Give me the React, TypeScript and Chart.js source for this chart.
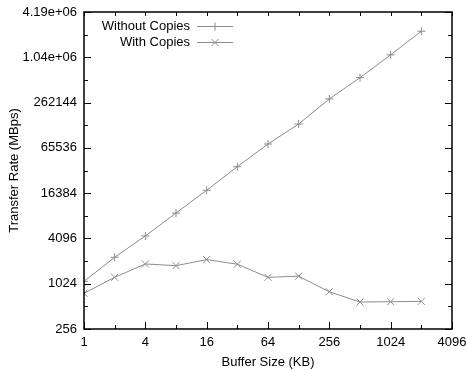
import React, { useEffect, useRef } from 'react';
import { Chart, registerables } from 'chart.js';

Chart.register(...registerables);

const bufferSizesKB = [1, 2, 4, 8, 16, 32, 64, 128, 256, 512, 1024, 2048];
const withoutCopies = [1100, 2300, 4420, 8900, 17900, 36800, 73700, 136000, 293000, 562000, 1130000, 2330000];
const withCopies = [764, 1245, 1875, 1780, 2140, 1860, 1245, 1290, 800, 584, 590, 597];

const xTickValues = [1, 2, 4, 8, 16, 32, 64, 128, 256, 512, 1024, 2048, 4096];
const xTickLabels = ['1', '', '4', '', '16', '', '64', '', '256', '', '1024', '', '4096'];
const yTickValues = [256, 512, 1024, 2048, 4096, 8192, 16384, 32768, 65536, 131072, 262144, 524288, 1048576, 2097152, 4194304];
const yTickLabels = ['256', '', '1024', '', '4096', '', '16384', '', '65536', '', '262144', '', '1.04e+06', '', '4.19e+06'];

const seriesNames = ['Without Copies', 'With Copies'];
const xTitle = 'Buffer Size (KB)';
const yTitle = 'Transfer Rate (MBps)';

const LINE = '#8c8c8c';
const FONT = '"Liberation Sans", Arial, sans-serif';

function drawMarker(ctx: CanvasRenderingContext2D, style: string, x: number, y: number, r: number) {
  ctx.beginPath();
  if (style === 'cross') {
    ctx.moveTo(x - r, y);
    ctx.lineTo(x + r, y);
    ctx.moveTo(x, y - r);
    ctx.lineTo(x, y + r);
  } else {
    const d = r * Math.SQRT1_2;
    ctx.moveTo(x - d, y - d);
    ctx.lineTo(x + d, y + d);
    ctx.moveTo(x - d, y + d);
    ctx.lineTo(x + d, y - d);
  }
  ctx.stroke();
}

const framePlugin = {
  id: 'gnuframe',
  afterDatasetsDraw(chart: any) {
    const ctx: CanvasRenderingContext2D = chart.ctx;
    const { left, right, top, bottom } = chart.chartArea;
    const xs = chart.scales.x;
    const ys = chart.scales.y;
    ctx.save();
    ctx.strokeStyle = '#000';
    ctx.lineWidth = 1;
    // ticks
    ctx.beginPath();
    xTickValues.forEach((v, i) => {
      const px = Math.round(xs.getPixelForValue(v)) + 0.5;
      const major = xTickLabels[i] !== '';
      const len = major ? 7 : 4;
      ctx.moveTo(px, bottom);
      ctx.lineTo(px, bottom - len);
      ctx.moveTo(px, top);
      ctx.lineTo(px, top + 4);
    });
    yTickValues.forEach((v, i) => {
      const py = Math.round(ys.getPixelForValue(v)) + 0.5;
      const major = yTickLabels[i] !== '';
      const len = major ? 7 : 4;
      ctx.moveTo(left, py);
      ctx.lineTo(left + len, py);
      ctx.moveTo(right, py);
      ctx.lineTo(right - len, py);
    });
    ctx.stroke();
    // frame
    ctx.lineWidth = 1.5;
    ctx.strokeRect(left, top, right - left, bottom - top);

    // legend
    ctx.font = `13px ${FONT}`;
    ctx.fillStyle = '#000';
    ctx.textAlign = 'right';
    ctx.textBaseline = 'middle';
    const rows = [26, 42];
    chart.data.datasets.forEach((ds: any, i: number) => {
      const y = rows[i];
      ctx.fillText(ds.label, 190, y);
      ctx.strokeStyle = LINE;
      ctx.lineWidth = 1;
      ctx.beginPath();
      ctx.moveTo(197, y + 0.5);
      ctx.lineTo(233, y + 0.5);
      ctx.stroke();
      drawMarker(ctx, ds.pointStyle, 215, y + 0.5, ds.pointStyle === 'cross' ? 4 : 5);
    });
    ctx.restore();
  },
};

export default function App() {
  const ref = useRef<HTMLCanvasElement>(null);
  useEffect(() => {
    Chart.defaults.font.family = FONT;
    const chart = new Chart(ref.current!, {
      type: 'line',
      data: {
        datasets: [
          {
            label: seriesNames[0],
            data: bufferSizesKB.map((x, i) => ({ x, y: withoutCopies[i] })),
            borderColor: LINE,
            backgroundColor: LINE,
            borderWidth: 1,
            pointStyle: 'cross',
            pointRadius: 4,
            pointBorderWidth: 1,
            pointBorderColor: LINE,
            tension: 0,
            fill: false,
          },
          {
            label: seriesNames[1],
            data: bufferSizesKB.map((x, i) => ({ x, y: withCopies[i] })),
            borderColor: LINE,
            backgroundColor: LINE,
            borderWidth: 1,
            pointStyle: 'crossRot',
            pointRadius: 5,
            pointBorderWidth: 1,
            pointBorderColor: LINE,
            tension: 0,
            fill: false,
          },
        ],
      },
      options: {
        animation: false,
        responsive: false,
        devicePixelRatio: 1,
        layout: { padding: { left: 0, top: 12, right: 14, bottom: 0 } },
        plugins: { legend: { display: false }, tooltip: { enabled: false } },
        scales: {
          x: {
            type: 'logarithmic',
            position: 'bottom',
            min: 1,
            max: 4096,
            afterBuildTicks: (s: any) => {
              s.ticks = xTickValues.map((v) => ({ value: v }));
            },
            afterFit: (s: any) => {
              s.height = 41;
              s.paddingLeft = 0;
              s.paddingRight = 0;
            },
            grid: { display: false, drawTicks: false },
            border: { display: false },
            ticks: {
              autoSkip: false,
              maxRotation: 0,
              minRotation: 0,
              padding: 6,
              color: '#000',
              font: { size: 13 },
              callback: (_v: any, i: number) => xTickLabels[i],
            },
            title: {
              display: true,
              text: xTitle,
              color: '#000',
              font: { size: 13 },
              padding: { top: 0, bottom: 0 },
            },
          },
          y: {
            type: 'logarithmic',
            position: 'left',
            min: 256,
            max: 4194304,
            afterBuildTicks: (s: any) => {
              s.ticks = yTickValues.map((v) => ({ value: v }));
            },
            afterFit: (s: any) => {
              s.width = 84;
              s.paddingTop = 0;
              s.paddingBottom = 0;
            },
            grid: { display: false, drawTicks: false },
            border: { display: false },
            ticks: {
              autoSkip: false,
              padding: 7,
              color: '#000',
              font: { size: 13 },
              callback: (_v: any, i: number) => yTickLabels[i],
            },
            title: {
              display: true,
              text: yTitle,
              color: '#000',
              font: { size: 13 },
              padding: { top: 7, bottom: 0 },
            },
          },
        },
      } as any,
      plugins: [framePlugin],
    });
    return () => chart.destroy();
  }, []);
  return (
    <div style={{ position: 'fixed', left: 0, top: 0, width: 466, height: 370, background: '#fff' }}>
      <canvas ref={ref} width={466} height={370} style={{ display: 'block', width: 466, height: 370 }} />
    </div>
  );
}
